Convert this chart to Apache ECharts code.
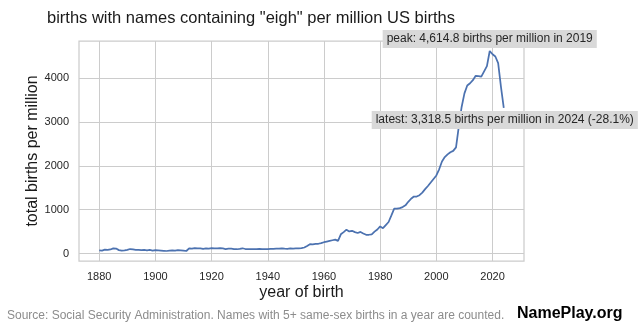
<!DOCTYPE html>
<html>
<head>
<meta charset="utf-8">
<script src="https://cdn.jsdelivr.net/npm/echarts@6/dist/echarts.min.js"></script>
<style>
html,body{margin:0;padding:0;background:#fff;}
#c{width:640px;height:329px;}
</style>
</head>
<body>
<div id="c"></div>
<script>
// ---- data ----
const firstYear = 1880;
const lastYear = 2024;
const perMillion = [
  75, 70, 90, 85, 95, 120, 115, 80, 70, 75,
  85, 105, 95, 85, 85, 80, 85, 75, 85, 70,
  80, 75, 70, 65, 60, 70, 75, 70, 80, 75,
  70, 60, 120, 115, 125, 118, 122, 110, 120, 115,
  125, 122, 120, 125, 118, 105, 112, 115, 105, 100,
  110, 122, 105, 100, 105, 100, 102, 108, 105, 100,
  103, 110, 108, 112, 115, 120, 112, 110, 118, 115,
  118, 120, 125, 140, 175, 215, 210, 220, 225, 240,
  260, 275, 290, 305, 320, 290, 440, 490, 545, 505,
  520, 490, 470, 495, 460, 430, 430, 440, 500, 550,
  620, 580, 650, 720, 870, 1025, 1025, 1035, 1060, 1100,
  1180, 1250, 1300, 1300, 1330, 1390, 1470, 1540, 1620, 1700,
  1780, 1920, 2100, 2200, 2260, 2310, 2340, 2420, 2900, 3340,
  3650, 3830, 3880, 3950, 4050, 4040, 4030, 4150, 4270, 4614.8,
  4540, 4490, 4340, 3800, 3318.5
];
const xTicks = [1880, 1900, 1920, 1940, 1960, 1980, 2000, 2020];
const yTicks = [0, 1000, 2000, 3000, 4000];
const titleText = 'births with names containing "eigh" per million US births';
const xName = 'year of birth';
const yName = 'total births per million';
const sourceText = 'Source: Social Security Administration. Names with 5+ same-sex births in a year are counted.';
const brandText = 'NamePlay.org';

// ---- derived ----
const years = [];
for (let y = firstYear; y <= lastYear; y++) years.push(y);
const points = years.map((y, i) => [y, perMillion[i]]);
let peakIdx = 0;
perMillion.forEach((v, i) => { if (v > perMillion[peakIdx]) peakIdx = i; });
const peakVal = perMillion[peakIdx], peakYear = years[peakIdx];
const lastVal = perMillion[perMillion.length - 1];
const fmt = v => v.toLocaleString('en-US', {minimumFractionDigits: 1, maximumFractionDigits: 1});
const pct = ((lastVal / peakVal - 1) * 100).toFixed(1);
const peakLabel = 'peak: ' + fmt(peakVal) + ' births per million in ' + peakYear;
const lastLabel = 'latest: ' + fmt(lastVal) + ' births per million in ' + lastYear + ' (' + pct + '%)';

const xPad = (lastYear - firstYear) * 0.05;
const yMinV = Math.min(...perMillion), yMaxV = Math.max(...perMillion);
const yPad = (yMaxV - yMinV) * 0.05;

const FONT = '"Liberation Sans", Arial, sans-serif';
const chart = echarts.init(document.getElementById('c'), null, {renderer: 'canvas'});
chart.setOption({
  animation: false,
  backgroundColor: '#ffffff',
  textStyle: {fontFamily: FONT},
  title: {
    text: titleText, left: 42, top: 5,
    textStyle: {fontFamily: FONT, fontSize: 16.5, fontWeight: 'normal', color: '#1a1a1a'}
  },
  grid: {
    left: 79, right: 116, top: 41, bottom: 68,
    show: true, borderColor: '#cccccc', borderWidth: 1.25, backgroundColor: 'transparent'
  },
  xAxis: {
    type: 'value',
    min: firstYear - xPad, max: lastYear + xPad,
    name: xName, nameLocation: 'middle', nameGap: 24, nameMoveOverlap: false,
    nameTextStyle: {fontFamily: FONT, fontSize: 16, color: '#1a1a1a'},
    axisLine: {show: false},
    axisTick: {show: false, customValues: xTicks},
    axisLabel: {customValues: xTicks, formatter: v => String(v), fontFamily: FONT, fontSize: 11, color: '#262626', margin: 10},
    splitLine: {show: true, lineStyle: {color: '#cccccc', width: 1}}
  },
  yAxis: {
    type: 'value',
    min: yMinV - yPad, max: yMaxV + yPad,
    name: yName, nameLocation: 'middle', nameGap: 38, nameMoveOverlap: false,
    nameTextStyle: {fontFamily: FONT, fontSize: 16, color: '#1a1a1a'},
    axisLine: {show: false},
    axisTick: {show: false, customValues: yTicks},
    axisLabel: {customValues: yTicks, formatter: v => String(v), fontFamily: FONT, fontSize: 11, color: '#262626', margin: 10},
    splitLine: {show: true, lineStyle: {color: '#cccccc', width: 1}}
  },
  series: [{
    type: 'line',
    data: points,
    showSymbol: false,
    symbol: 'none',
    lineStyle: {color: '#4c72b0', width: 1.75},
    itemStyle: {color: '#4c72b0'},
    markPoint: {
      symbol: 'circle', symbolSize: 0,
      label: {
        show: true, position: 'inside',
        backgroundColor: '#d9d9d9', padding: [3, 4],
        color: '#262626', fontFamily: FONT, fontSize: 12
      },
      data: [
        {coord: [peakYear, peakVal], label: {formatter: peakLabel, offset: [0, -12]}},
        {coord: [lastYear, lastVal], label: {formatter: lastLabel, offset: [1, 12]}}
      ]
    }
  }],
  graphic: [
    {type: 'text', left: 7, top: 310, style: {text: sourceText, fontFamily: FONT, fontSize: 12, fill: '#8c8c8c'}},
    {type: 'text', left: 517, top: 306, style: {text: brandText, fontFamily: FONT, fontSize: 16, fontWeight: 'bold', fill: '#000000'}}
  ]
});
</script>
</body>
</html>
